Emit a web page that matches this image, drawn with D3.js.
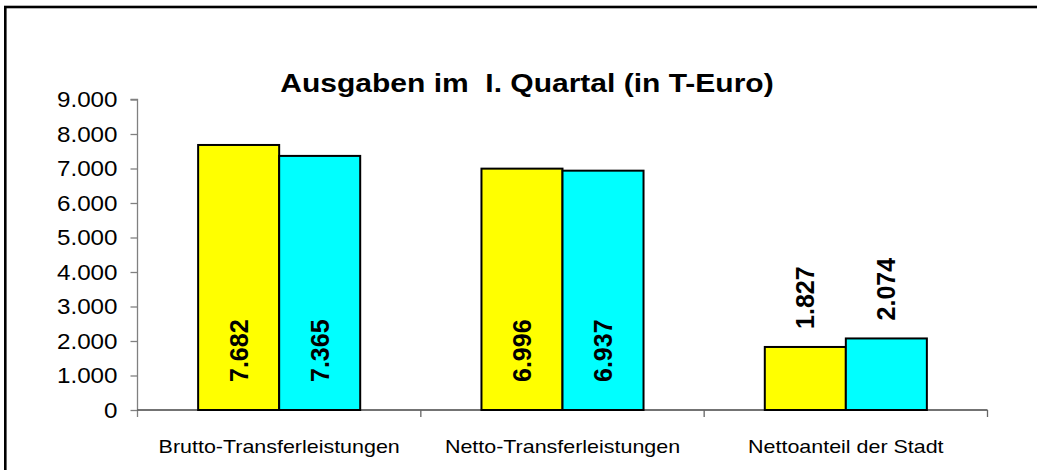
<!DOCTYPE html>
<html>
<head>
<meta charset="utf-8">
<script src="https://cdn.jsdelivr.net/npm/d3@7"></script>
<style>
  body { margin: 0; background: #fff; }
  svg { display: block; }
  text { font-family: "Liberation Sans", Arial, sans-serif; }
</style>
</head>
<body>
<svg id="chart" width="1037" height="470"></svg>
<script>
const categories = ["Brutto-Transferleistungen", "Netto-Transferleistungen", "Nettoanteil der Stadt"];
const seriesNames = ["Serie 1", "Serie 2"];
const series1 = [7682, 6996, 1827];
const series2 = [7365, 6937, 2074];
const yTicks = [0, 1000, 2000, 3000, 4000, 5000, 6000, 7000, 8000, 9000];
const title = "Ausgaben im \u00A0I. Quartal (in T-Euro)";
const colors = ["#FFFF00", "#00FFFF"];

const locale = d3.formatLocale({decimal: ",", thousands: ".", grouping: [3], currency: ["", " €"]});
const fmt = locale.format(",d");

const svg = d3.select("#chart");

// outer frame
svg.append("rect").attr("x", 5.3).attr("y", 7).attr("width", 1100).attr("height", 600)
  .attr("fill", "none").attr("stroke", "#000").attr("stroke-width", 2.6);

const plot = {left: 137.5, right: 987.5, top: 99.5, bottom: 410};

const y = d3.scaleLinear().domain([0, 9000]).range([plot.bottom, plot.top]);
const x0 = d3.scaleBand().domain(categories).range([plot.left, plot.right])
  .paddingInner(0.428).paddingOuter(0.214);
const x1 = d3.scaleBand().domain(seriesNames).range([0, x0.bandwidth()]);

// title (horizontally widened like the original rendering)
svg.append("text").attr("transform", "translate(527,92) scale(1.2,1)").attr("text-anchor", "middle")
  .attr("font-size", 25).attr("font-weight", "bold").text(title);

// y axis
const yAxis = d3.axisLeft(y).tickValues(yTicks).tickSize(7).tickPadding(0).tickFormat(d => fmt(d));
const gy = svg.append("g").attr("transform", `translate(${plot.left},0)`).call(yAxis);
gy.select(".domain").attr("stroke", "#808080").attr("stroke-width", 1.3).attr("d", `M-7,${plot.top}H0V${plot.bottom + 7}`);
gy.selectAll(".tick line").attr("stroke", "#808080").attr("stroke-width", 1.3);
gy.selectAll(".tick text").attr("font-size", 22).attr("fill", "#000")
  .attr("font-family", "Liberation Sans, Arial, sans-serif")
  .attr("x", null).attr("transform", "translate(-20,0) scale(1.1,1)");

// x axis
const stepX = x0.step();
const xEdges = [0, 1, 2, 3].map(i => plot.left + i * stepX);
svg.append("line").attr("x1", plot.left).attr("x2", plot.right).attr("y1", plot.bottom).attr("y2", plot.bottom)
  .attr("stroke", "#444").attr("stroke-width", 1.3);
svg.selectAll(".xtick").data(xEdges.slice(1)).enter().append("line")
  .attr("x1", d => d).attr("x2", d => d).attr("y1", plot.bottom).attr("y2", plot.bottom + 7)
  .attr("stroke", "#666").attr("stroke-width", 1.3);
svg.selectAll(".xlabel").data(categories).enter().append("text")
  .attr("transform", d => `translate(${x0(d) + x0.bandwidth() / 2},453) scale(1.16,1)`)
  .attr("text-anchor", "middle").attr("font-size", 18.5).text(d => d);

// bars
const data = categories.map((c, i) => ({cat: c, vals: [series1[i], series2[i]]}));
const groups = svg.selectAll(".grp").data(data).enter().append("g")
  .attr("transform", d => `translate(${x0(d.cat)},0)`);

groups.selectAll("rect").data(d => d.vals.map((v, j) => ({v, s: seriesNames[j], j})))
  .enter().append("rect")
  .attr("x", d => x1(d.s)).attr("width", x1.bandwidth())
  .attr("y", d => y(d.v)).attr("height", d => y(0) - y(d.v))
  .attr("fill", d => colors[d.j]).attr("stroke", "#000").attr("stroke-width", 2);

groups.selectAll(".lbl").data(d => d.vals.map((v, j) => ({v, s: seriesNames[j], j})))
  .enter().append("text")
  .attr("transform", d => {
    const cx = x1(d.s) + x1.bandwidth() / 2;
    const ty = d.v > 3000 ? y(0) - 28 : y(d.v) - 18;
    return `translate(${cx},${ty}) rotate(-90)`;
  })
  .attr("dy", "0.36em").attr("text-anchor", "start")
  .attr("font-size", 25).attr("font-weight", "bold").text(d => fmt(d.v));
</script>
</body>
</html>
